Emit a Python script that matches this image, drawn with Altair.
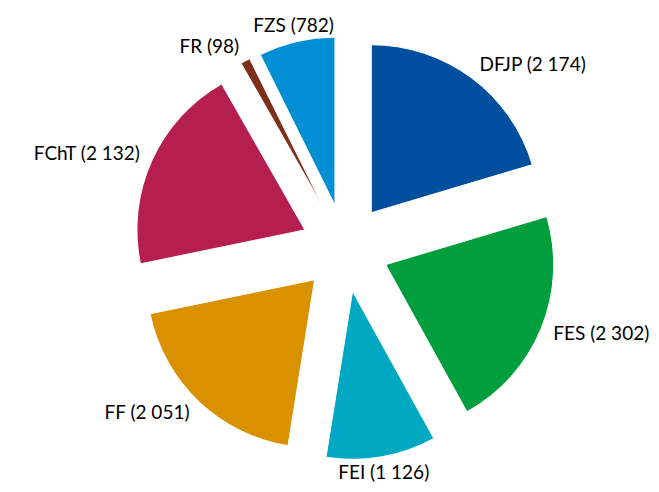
import altair as alt
import pandas as pd

# Data
labels = ["DFJP", "FES", "FEI", "FF", "FChT", "FR", "FZS"]
values = [2174, 2302, 1126, 2051, 2132, 98, 782]
colors = ["#004F9F", "#009E3D", "#00A8C1", "#DA9100", "#B51F50", "#7E2F18", "#008FD5"]

# Layout constants
W, H = 643, 476
CX, CY = 337, 240
R = 168
EXPLODE = 44
LABEL_RX = 225
LABEL_RY = 228

df = pd.DataFrame({
    "name": labels,
    "value": values,
    "order": list(range(len(labels))),
    "label": [f"{n} ({v:,})".replace(",", " ") for n, v in zip(labels, values)],
})

base = alt.Chart(df).transform_joinaggregate(
    total="sum(value)"
).transform_window(
    cum="sum(value)", sort=[alt.SortField("order")], frame=[None, 0]
).transform_calculate(
    a0="2*PI*(datum.cum - datum.value)/datum.total",
    a1="2*PI*datum.cum/datum.total",
).transform_calculate(
    mid="(datum.a0 + datum.a1)/2",
).transform_calculate(
    px=f"{CX} + {EXPLODE}*sin(datum.mid)",
    py=f"{CY} - {EXPLODE}*cos(datum.mid)",
    lx=f"{CX} + {LABEL_RX}*sin(datum.mid)",
    ly=f"{CY} - {LABEL_RY}*cos(datum.mid)",
    side="sin(datum.mid) > 0.3 ? 'left' : (sin(datum.mid) < -0.3 ? 'right' : 'center')",
)

arcs = base.mark_arc(radius=R, stroke="white", strokeWidth=1).encode(
    theta=alt.Theta("a0:Q", scale=None, stack=False),
    theta2="a1:Q",
    x=alt.X("px:Q", scale=None, axis=None),
    y=alt.Y("py:Q", scale=None, axis=None),
    color=alt.Color("name:N", scale=alt.Scale(domain=labels, range=colors), legend=None),
)

def text_layer(align):
    return base.transform_filter(f"datum.side == '{align}'").mark_text(
        align=align, baseline="middle", font="Lato", fontSize=19, color="#000000"
    ).encode(
        x=alt.X("lx:Q", scale=None, axis=None),
        y=alt.Y("ly:Q", scale=None, axis=None),
        text="label:N",
    )

chart = alt.layer(
    arcs, text_layer("left"), text_layer("right"), text_layer("center")
).properties(
    width=W, height=H, autosize=alt.AutoSizeParams(type="none"), padding=0
).configure_view(stroke=None)

chart.save("out.html", embed_options={"renderer": "svg", "actions": False})
